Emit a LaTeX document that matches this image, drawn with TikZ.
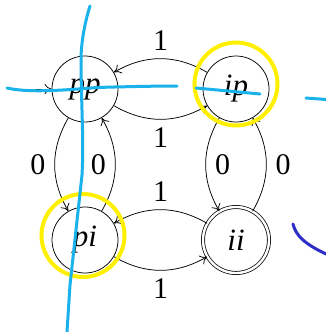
\documentclass[tikz,border=0pt]{standalone}
\usepackage{fontspec}
\setmainfont{Liberation Serif}
\usetikzlibrary{arrows.meta}
\definecolor{markcyan}{RGB}{25,178,235}
\definecolor{markyellow}{RGB}{255,240,0}
\definecolor{markblue}{RGB}{45,45,200}
\begin{document}
\begin{tikzpicture}[x=1pt,y=1pt,
  state/.style={circle, draw, line width=0.75pt, minimum size=66pt, inner sep=0pt,
    font=\fontsize{31}{33}\selectfont\itshape},
  accstate/.style={state, double, double distance=2.4pt},
  trans/.style={line width=0.75pt, -{To[length=7pt,width=10pt]}},
  lbl/.style={font=\fontsize{30}{32}\selectfont, inner sep=0pt},
  cyanmark/.style={draw=markcyan, line width=3pt, line cap=round},
  yellowmark/.style={draw=markyellow, line width=4pt},
  bluemark/.style={draw=markblue, line width=3pt, line cap=round}
]
\path[use as bounding box, fill=white] (0,0) rectangle (326,-332);

\node[state] (pp) at (85,-89) {pp};
\node[state] (ip) at (236,-89) {ip};
\node[state] (pi) at (85,-240) {pi};
\node[accstate] (ii) at (236,-240) {ii};
\coordinate (init) at (13,-89);

\draw[trans] (init) -- (pp);
\draw[trans] (pp) to[bend right=30] node[lbl, below=8pt] {1} (ip);
\draw[trans] (ip) to[bend right=30] node[lbl, above=8pt] {1} (pp);
\draw[trans] (pp) to[bend right=30] node[lbl, left=9pt] {0} (pi);
\draw[trans] (pi) to[bend right=30] node[lbl, left=9pt] {0} (pp);
\draw[trans] (ip) to[bend right=30] node[lbl, right=9pt] {0} (ii);
\draw[trans] (ii) to[bend right=30] node[lbl, right=9pt] {0} (ip);
\draw[trans] (ii) to[bend right=30] node[lbl, above=8pt] {1} (pi);
\draw[trans] (pi) to[bend right=30] node[lbl, below=8pt] {1} (ii);

% annotations
\draw[yellowmark] (236,-84) circle[radius=41.5];
\draw[yellowmark] (83,-235.5) circle[radius=41.5];
\draw[cyanmark] (7,-88) .. controls (25,-92) and (50,-91.5) .. (97,-87.5)
  .. controls (130,-86.5) and (160,-86) .. (177,-86);
\draw[cyanmark] (196,-88) -- (260,-94);
\draw[cyanmark] (306,-98) -- (326,-99.5);
\draw[cyanmark] (90,-6) .. controls (84,-25) and (81,-45) .. (81,-60)
  .. controls (81,-100) and (84,-140) .. (82,-175) -- (70,-285) -- (67,-332);
\draw[bluemark] (293,-224) .. controls (296,-236) and (305,-244) .. (326,-254);
\end{tikzpicture}
\end{document}
